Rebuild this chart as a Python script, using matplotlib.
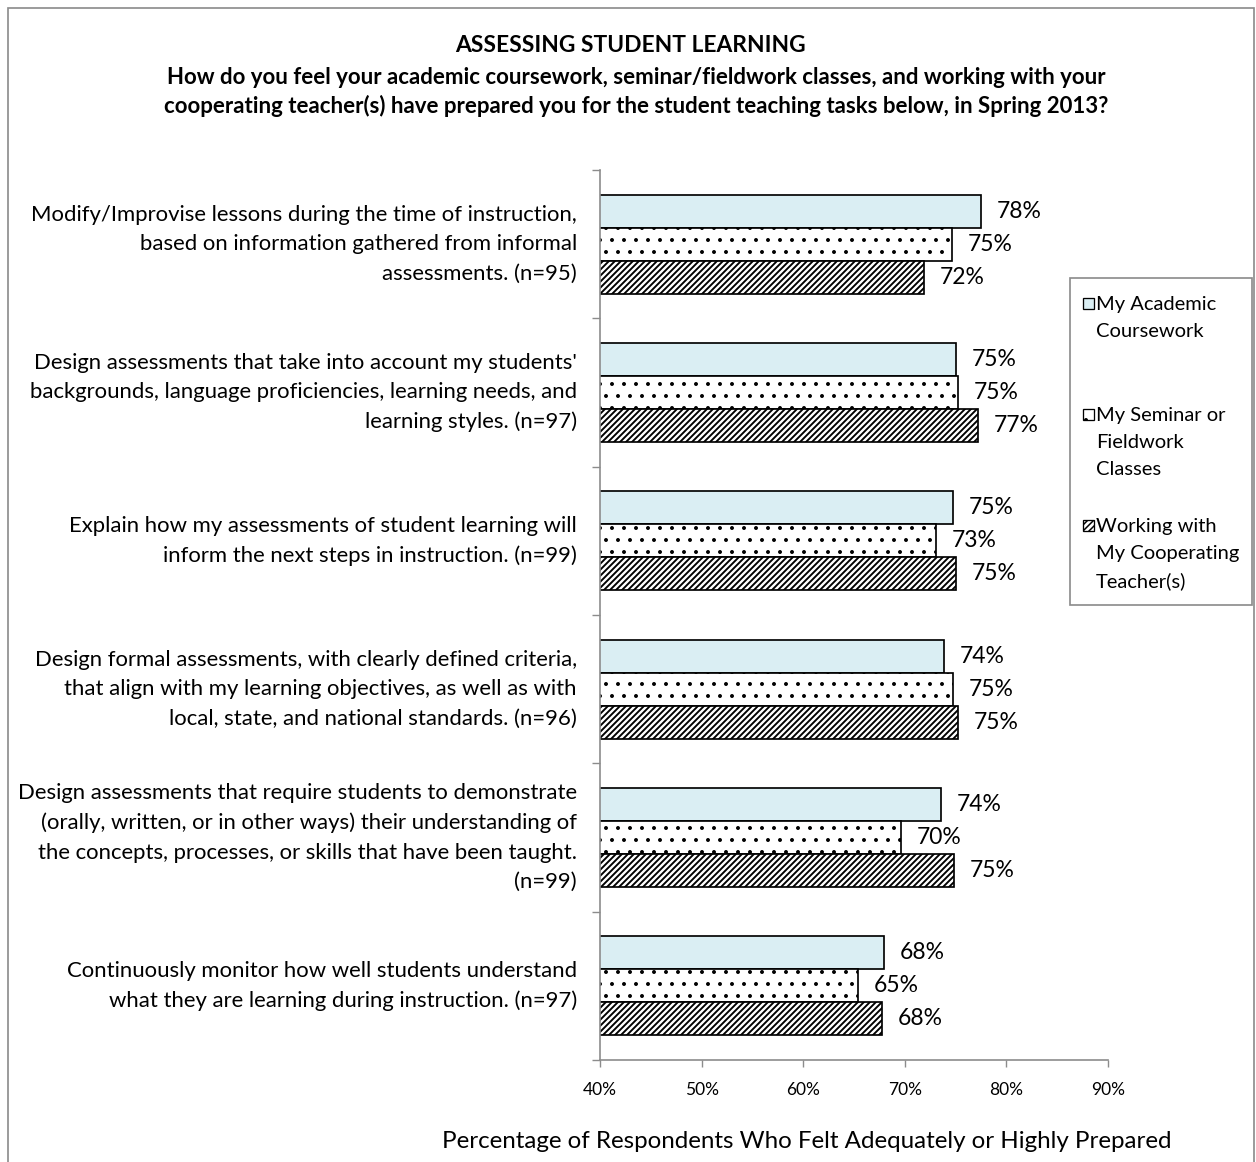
import matplotlib
matplotlib.use("Agg")
import matplotlib.pyplot as plt
import numpy as np
from matplotlib.patches import Rectangle

plt.rcParams['font.family'] = ['Lato', 'DejaVu Sans']

categories = [
    "Modify/Improvise lessons during the time of instruction,\nbased on information gathered from informal\nassessments. (n=95)",
    "Design assessments that take into account my students'\nbackgrounds, language proficiencies, learning needs, and\nlearning styles. (n=97)",
    "Explain how my assessments of student learning will\ninform the next steps in instruction. (n=99)",
    "Design formal assessments, with clearly defined criteria,\nthat align with my learning objectives, as well as with\nlocal, state, and national standards. (n=96)",
    "Design assessments that require students to demonstrate\n(orally, written, or in other ways) their understanding of\nthe concepts, processes, or skills that have been taught.\n(n=99)",
    "Continuously monitor how well students understand\nwhat they are learning during instruction. (n=97)",
]
series_names = [
    "My Academic\nCoursework",
    "My Seminar or\nFieldwork\nClasses",
    "Working with\nMy Cooperating\nTeacher(s)",
]
academic = [77.5, 75.0, 74.7, 73.9, 73.6, 68.0]
seminar = [74.6, 75.2, 73.1, 74.7, 69.6, 65.4]
cooperating = [71.9, 77.2, 75.0, 75.2, 74.8, 67.8]
xticks = [40, 50, 60, 70, 80, 90]

W, H = 1256, 1162
DPI = 72
S = 100 / DPI  # sizes below are given for a 100-dpi canvas


def fs(v):
    return v * S


fig = plt.figure(figsize=(W / DPI, H / DPI), dpi=DPI)


def fpos(x, y):
    """Pixel position (from top-left) to figure fraction."""
    return x / W, 1 - y / H


ax = fig.add_axes([600 / W, 1 - 1060 / H, 508 / W, 890 / H])

# outer chart frame
fig.patches.append(Rectangle((8 / W, -0.05), 1246 / W, 1 - 8 / H + 0.05,
                             transform=fig.transFigure, fill=False,
                             edgecolor='#8c8c8c', linewidth=1.7))

y = np.arange(len(categories))
h = 0.222
styles = [
    dict(color='#DAEEF3', hatch=None, hlw=1.0),
    dict(color='white', hatch='.', hlw=1.5),
    dict(color='white', hatch='////', hlw=1.9),
]
all_vals = [academic, seminar, cooperating]
for k, (vals, st) in enumerate(zip(all_vals, styles)):
    bars = ax.barh(y + (k - 1) * h, vals, height=h, left=0,
                   color=st['color'], edgecolor='black', linewidth=1.7,
                   hatch=st['hatch'], zorder=2)
    for b in bars:
        if hasattr(b, 'set_hatch_linewidth'):
            b.set_hatch_linewidth(st['hlw'])
    for yy, v in zip(y + (k - 1) * h, vals):
        ax.text(v + 1.55, yy, f"{round(v):.0f}%", va='center', ha='left',
                fontsize=fs(16.5), color='black')

ax.set_xlim(40, 90)
ax.set_ylim(len(categories) - 0.5, -0.5)
ax.set_xticks(xticks)
ax.set_xticklabels([f"{t}%" for t in xticks], fontsize=fs(12.5))

# category labels, right-aligned just left of the axis
ax.set_yticks(y)
ax.set_yticklabels([])
ax.tick_params(axis='y', which='major', length=0)
for yy, lab in zip(y, categories):
    ax.text(-23 / 508, yy, lab, transform=ax.get_yaxis_transform(),
            ha='right', va='center', fontsize=fs(15.9), linespacing=1.58)

ax.set_yticks(np.arange(-0.5, len(categories)), minor=True)
ax.tick_params(axis='y', which='minor', length=fs(6), width=fs(1),
               color='#8c8c8c', direction='out')
ax.tick_params(axis='x', length=fs(5), width=fs(1), color='#8c8c8c',
               direction='out', pad=fs(11))

for s in ['top', 'right']:
    ax.spines[s].set_visible(False)
for s in ['left', 'bottom']:
    ax.spines[s].set_color('#8c8c8c')
    ax.spines[s].set_linewidth(fs(1.2))

fig.text(*fpos(630, 45), "ASSESSING STUDENT LEARNING", ha='center', va='center',
         fontsize=fs(16.4), fontweight='bold')
fig.text(*fpos(636, 92),
         "How do you feel your academic coursework, seminar/fieldwork classes, and working with your\n"
         "cooperating teacher(s) have prepared you for the student teaching tasks below, in Spring 2013?",
         ha='center', va='center', fontsize=fs(16), fontweight='bold', linespacing=1.42)
fig.text(*fpos(807, 1141),
         "Percentage of Respondents Who Felt Adequately or Highly Prepared",
         ha='center', va='center', fontsize=fs(17.4))

# legend panel: a framed box with a swatch beside the first line of each entry
fig.patches.append(Rectangle(fpos(1070, 605), 182 / W, 327 / H,
                             transform=fig.transFigure, fill=False,
                             edgecolor='#8c8c8c', linewidth=1.7))
entry_y = [303, 414, 525]
for name, st, ey in zip(series_names, styles, entry_y):
    sw = Rectangle(fpos(1083, ey + 6), 11 / W, 11 / H, transform=fig.transFigure,
                   facecolor=st['color'], edgecolor='black', linewidth=1.3,
                   hatch=st['hatch'])
    if hasattr(sw, 'set_hatch_linewidth'):
        sw.set_hatch_linewidth(min(st['hlw'], 1.5))
    fig.patches.append(sw)
    fig.text(*fpos(1096, ey - 7), name, ha='left', va='top',
             fontsize=fs(14.5), linespacing=1.71)

fig.savefig("out.png", dpi=DPI)
